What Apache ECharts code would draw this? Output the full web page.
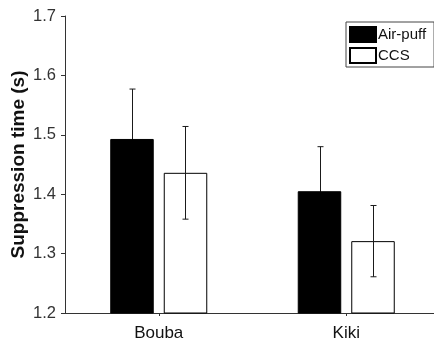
<!DOCTYPE html>
<html>
<head>
<meta charset="utf-8">
<script src="https://cdn.jsdelivr.net/npm/echarts@6/dist/echarts.min.js"></script>
<style>html,body{margin:0;padding:0;background:#fff}#c{width:434px;height:342px}</style>
</head>
<body>
<div id="c"></div>
<script>
var categories = ['Bouba', 'Kiki'];
var airPuff = [1.493, 1.405];
var airPuffErr = [0.084, 0.075];
var ccs = [1.436, 1.321];
var ccsErr = [0.078, 0.060];
var yTicks = [1.2, 1.3, 1.4, 1.5, 1.6, 1.7];

var FONT = 'Liberation Sans, Arial, sans-serif';
var chart = echarts.init(document.getElementById('c'), null, {renderer: 'canvas'});

function errSeries(name, vals, errs, offFrac, z) {
  return {
    type: 'custom',
    name: name + ' err',
    z: z,
    silent: true,
    data: vals.map(function (v, i) { return [i, v - errs[i], v + errs[i]]; }),
    renderItem: function (params, api) {
      var band = api.size([1, 0])[0];
      var lo = api.coord([api.value(0), api.value(1)]);
      var hi = api.coord([api.value(0), api.value(2)]);
      var x = Math.round(lo[0] + band * offFrac) + 0.5;
      var w = 3;
      var st = {stroke: '#1a1a1a', lineWidth: 1};
      return {
        type: 'group',
        children: [
          {type: 'line', shape: {x1: x, y1: lo[1], x2: x, y2: hi[1]}, style: st},
          {type: 'line', shape: {x1: x - w, y1: lo[1], x2: x + w, y2: lo[1]}, style: st},
          {type: 'line', shape: {x1: x - w, y1: hi[1], x2: x + w, y2: hi[1]}, style: st}
        ]
      };
    }
  };
}

chart.setOption({
  animation: false,
  backgroundColor: '#fff',
  grid: {left: 65, top: 16, width: 375, height: 297, containLabel: false, outerBoundsMode: 'none'},
  legend: {
    data: ['Air-puff', 'CCS'],
    orient: 'vertical',
    left: 346,
    top: 22,
    padding: [4, 8, 3, 3],
    itemWidth: 26,
    itemHeight: 15,
    itemGap: 4,
    borderColor: '#444',
    borderWidth: 1,
    borderRadius: 0,
    textStyle: {fontFamily: FONT, fontSize: 15, color: '#111', padding: [0, 0, 0, -3]},
    icon: 'rect'
  },
  xAxis: {
    type: 'category',
    data: categories,
    axisLine: {lineStyle: {color: '#333', width: 1}},
    axisTick: {show: true, alignWithLabel: true, length: 3, lineStyle: {color: '#333'}},
    axisLabel: {fontFamily: FONT, fontSize: 17, color: '#111', margin: 12}
  },
  yAxis: {
    type: 'value',
    min: yTicks[0],
    max: yTicks[yTicks.length - 1],
    interval: 0.1,
    splitLine: {show: false},
    axisLine: {show: true, lineStyle: {color: '#333', width: 1}},
    axisTick: {show: true, length: 4, lineStyle: {color: '#333'}},
    axisLabel: {fontFamily: FONT, fontSize: 16.5, color: '#333', margin: 9,
      formatter: function (v) { return v.toFixed(1); }},
    name: 'Suppression time (s)',
    nameLocation: 'middle',
    nameGap: 37,
    nameMoveOverlap: false,
    nameTextStyle: {fontFamily: FONT, fontSize: 19, fontWeight: 'bold', color: '#111'}
  },
  series: [
    {
      name: 'Air-puff', type: 'bar', data: airPuff, z: 2,
      barWidth: '23.2%', barGap: '23%',
      itemStyle: {color: '#000', borderColor: '#000', borderWidth: 1}
    },
    {
      name: 'CCS', type: 'bar', data: ccs, z: 2,
      barWidth: '23.2%', barGap: '23%',
      itemStyle: {color: '#fff', borderColor: '#000', borderWidth: 1}
    },
    errSeries('Air-puff', airPuff, airPuffErr, -0.1425, 1),
    errSeries('CCS', ccs, ccsErr, 0.1425, 10)
  ]
});
</script>
</body>
</html>
